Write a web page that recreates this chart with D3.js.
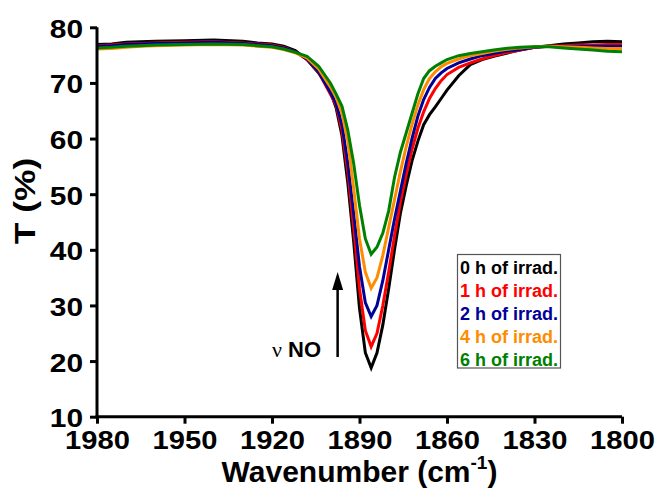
<!DOCTYPE html>
<html><head><meta charset="utf-8">
<script src="https://cdn.jsdelivr.net/npm/d3@7"></script>
<style>
body{margin:0;background:#fff;}
svg{display:block;}
text{font-family:"Liberation Sans",Arial,sans-serif;font-weight:bold;}
</style></head>
<body><svg id="c" width="657" height="497"></svg>
<script>
const wavenumbers = [1980,1975,1970,1965,1960,1950,1940,1930,1925,1920,1916,1912,1908,1904,1900,1898,1896,1894,1892,1890,1888,1886,1884,1882,1880,1878,1876,1874,1872,1870,1868,1866,1864,1862,1860,1856,1852,1848,1844,1840,1835,1830,1825,1820,1815,1810,1805,1800];
const t0h = [76.9,77.0,77.3,77.4,77.5,77.6,77.7,77.5,77.2,77.0,76.6,75.8,74.2,71.8,68.5,65.5,60.5,52,41.5,29.5,21.5,18.8,21.5,26.5,33,40,46.5,51.5,56,59.5,62.5,64.3,65.7,67.2,68.7,71.3,73.3,74.2,74.8,75.3,75.9,76.4,76.7,77.0,77.2,77.4,77.5,77.4];
const t1h = [76.7,76.8,77.0,77.1,77.2,77.3,77.4,77.2,77.0,76.8,76.4,75.6,74.2,71.9,68.0,66.0,61.5,54,44,33,25.5,22.6,25,30,36,42.5,48.5,53.5,58,61.8,64.8,67.2,69,70.4,71.5,72.8,73.6,74.3,74.9,75.4,75.9,76.4,76.6,76.7,76.8,76.8,76.9,76.9];
const t2h = [76.6,76.7,76.9,77.0,77.1,77.2,77.3,77.1,76.9,76.7,76.3,75.6,74.3,72.0,68.3,66.3,62.5,55.5,46.5,37,30.5,28.0,30,34.5,40,45.5,50.5,55.5,60,64,67,69.2,70.8,71.8,72.6,73.6,74.3,74.9,75.3,75.7,76.0,76.4,76.6,76.6,76.6,76.6,76.6,76.6];
const t4h = [76.1,76.2,76.4,76.6,76.7,76.8,76.9,76.8,76.6,76.4,76.0,75.4,74.5,72.5,69.3,67.4,64.5,59.5,51,42,36,33.1,35,39,44,49,54,58.5,62.5,66,68.8,70.8,72,72.9,73.5,74.3,74.9,75.3,75.7,76.0,76.3,76.5,76.6,76.5,76.4,76.3,76.2,76.2];
const t6h = [76.3,76.4,76.6,76.7,76.8,76.9,77.0,76.9,76.7,76.5,76.1,75.5,74.8,73.0,70.0,68.0,65.8,61.5,55.5,48,42,39.2,40.5,43,47,53,57.5,61,64.5,68,70.8,72.2,73.0,73.6,74.2,74.9,75.3,75.6,75.9,76.2,76.4,76.5,76.5,76.3,76.1,75.9,75.7,75.6];
const seriesNames = ["0 h of irrad.","1 h of irrad.","2 h of irrad.","4 h of irrad.","6 h of irrad."];
const seriesColors = ["#000000","#ff0000","#000099","#ff8c00","#008000"];
const xTicks = [1980,1950,1920,1890,1860,1830,1800];
const yTicks = [10,20,30,40,50,60,70,80];
const annotationText = "NO";
const annotationSymbol = "\u03BD";

const series = [t0h,t1h,t2h,t4h,t6h];
const svg = d3.select("#c");
const L = 97, R = 622, T = 27.3, B = 416.7;
const x = d3.scaleLinear().domain([1980,1800]).range([L,R]);
const y = d3.scaleLinear().domain([10,80]).range([B,T]);

function stretch(sel,k){
  sel.each(function(){
    const len = this.getComputedTextLength();
    d3.select(this).attr("textLength",len*k).attr("lengthAdjust","spacingAndGlyphs");
  });
}

// lines
const line = d3.line().x((d,i)=>x(wavenumbers[i])).y(d=>y(d));
series.forEach((s,i)=>{
  svg.append("path").datum(s).attr("d",line)
    .attr("fill","none").attr("stroke",seriesColors[i])
    .attr("stroke-width",3).attr("stroke-linejoin","miter");
});

// axes
const xAxis = svg.append("g").attr("transform",`translate(0,${B})`)
  .call(d3.axisBottom(x).tickValues(xTicks).tickFormat(d3.format("d")).tickSize(7).tickSizeOuter(0));
const yAxis = svg.append("g").attr("transform",`translate(${L},0)`)
  .call(d3.axisLeft(y).tickValues(yTicks).tickSize(7).tickSizeOuter(0));
[xAxis,yAxis].forEach(g=>{
  g.select(".domain").attr("stroke","#000").attr("stroke-width",3);
  g.selectAll(".tick line").attr("stroke","#000").attr("stroke-width",3);
  g.selectAll(".tick text").attr("fill","#000").style("font-size","26px")
   .style("font-family","'Liberation Sans',Arial,sans-serif").style("font-weight","bold");
});
xAxis.select(".domain").attr("d",`M${L-1.5},0H${R}`);
yAxis.select(".domain").attr("d",`M0,${T}V${B+1.5}`);
xAxis.selectAll(".tick text").attr("dy",null).attr("y",32);
yAxis.selectAll(".tick text").attr("dy",null).attr("x",-14).attr("y",10);
stretch(xAxis.selectAll(".tick text"),1.12);
stretch(yAxis.selectAll(".tick text"),1.15);

// axis titles
const xl = svg.append("text").attr("x",(L+R)/2).attr("y",482).attr("text-anchor","middle")
  .style("font-size","30px");
xl.append("tspan").text("Wavenumber (cm");
xl.append("tspan").text("-1").style("font-size","19px").attr("dy",-13);
xl.append("tspan").text(")").attr("dy",13);

const yl = svg.append("text").attr("transform","translate(35,201) rotate(-90)")
  .attr("text-anchor","middle").style("font-size","30px").text("T (%)");
stretch(yl,1.18);

// legend
const lg = svg.append("g");
lg.append("rect").attr("x",457.5).attr("y",254.5).attr("width",103).attr("height",113.5)
  .attr("fill","#fff").attr("stroke","#555").attr("stroke-width",1.2);
seriesNames.forEach((n,i)=>{
  lg.append("text").attr("x",460).attr("y",274+i*23).attr("fill",seriesColors[i])
    .style("font-size","18px").text(n);
});

// annotation arrow
const ax = x(1897.5);
svg.append("line").attr("x1",ax).attr("x2",ax).attr("y1",357).attr("y2",285)
  .attr("stroke","#000").attr("stroke-width",2.5);
svg.append("path").attr("d",`M${ax},272L${ax-5.5},290L${ax+5.5},290Z`).attr("fill","#000");
const an = svg.append("text").attr("x",321).attr("y",357).attr("text-anchor","end").style("font-size","22px");
an.append("tspan").text(annotationSymbol).style("font-family","'Liberation Serif',serif").style("font-weight","normal");
an.append("tspan").text(" "+annotationText);
</script></body></html>
